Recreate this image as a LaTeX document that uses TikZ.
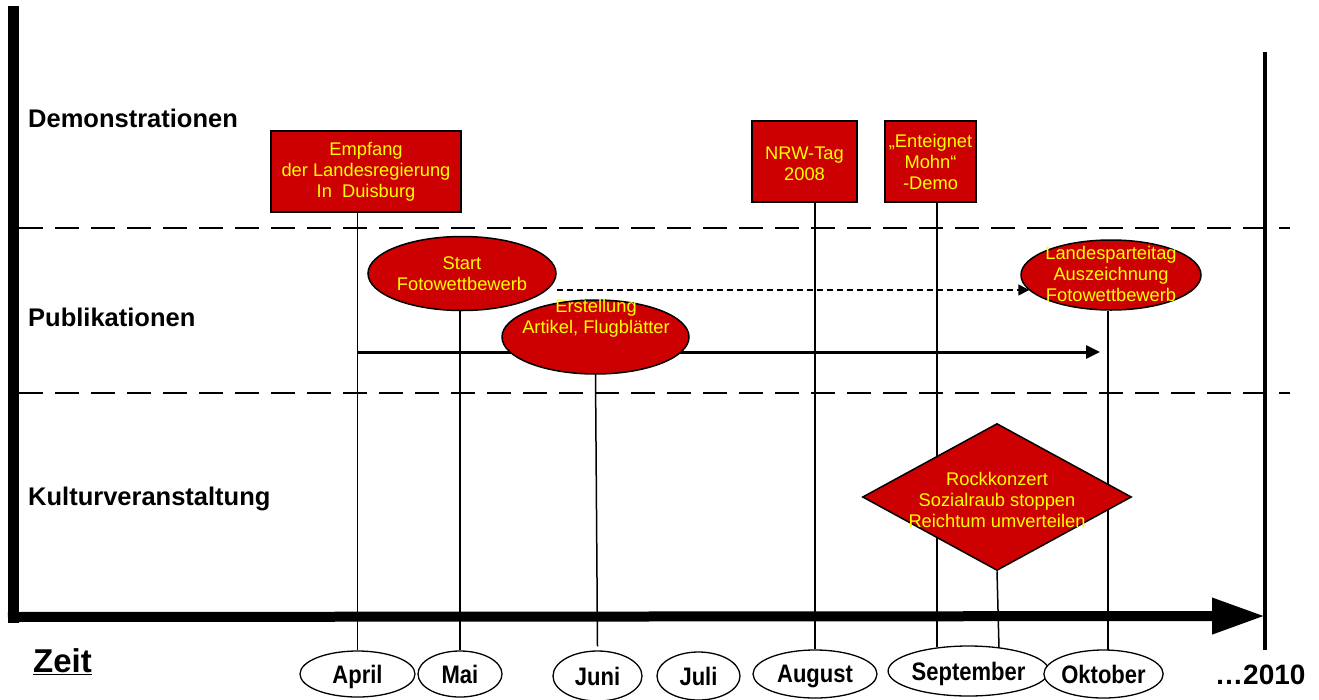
\documentclass[tikz,border=0pt]{standalone}
\usepackage{fontspec}
\setmainfont{Liberation Sans}
\usepackage{graphicx}
\usetikzlibrary{shapes.geometric,arrows.meta,backgrounds}
\definecolor{evred}{RGB}{204,0,0}
\definecolor{evyellow}{RGB}{255,255,0}
\newcommand{\mtxt}[1]{\scalebox{1}[1.15]{#1}}
\begin{document}
\begin{tikzpicture}[x=1pt,y=-1pt,
 evbox/.style={draw=black, line width=1.5pt, fill=evred, rectangle, inner sep=0pt},
 evell/.style={draw=black, line width=1.5pt, fill=evred, ellipse, inner sep=0pt},
 evdia/.style={draw=black, line width=1.5pt, fill=evred, diamond, inner sep=0pt},
 evtext/.style={text=evyellow, font=\fontsize{18.3}{21}\selectfont, align=center, inner sep=0pt},
 month/.style={draw=black, line width=1.3pt, fill=white, ellipse, inner sep=0pt, text depth=0pt, font=\fontsize{22}{24}\selectfont\bfseries},
 cat/.style={anchor=base west, font=\fontsize{25.5}{28}\selectfont\bfseries, inner sep=0pt},
 tick/.style={line width=1.5pt},
 sep/.style={line width=2.5pt, dash pattern=on 24pt off 12pt},
]
\useasboundingbox (0,0) rectangle (1319,699);

% category labels
\node[cat] (demo) at (28,127) {Demonstrationen};
\node[cat] (publ) at (28,326) {Publikationen};
\node[cat] (kult) at (28,505) {Kulturveranstaltung};
\node[anchor=base west, inner sep=0pt, font=\fontsize{33}{36}\selectfont\bfseries] (zeit) at (33,672) {\underline{Zeit}};
\node[anchor=base west, inner sep=0pt, font=\fontsize{28}{30}\selectfont\bfseries] (y2010) at (1215,684) {…2010};

% event shapes
\node[evbox, minimum width=190pt, minimum height=81pt] (empf) at (366,171.5) {};
\node[evtext] (empfT) at (empf) {Empfang\\der Landesregierung\\In\ \ Duisburg};
\node[evbox, minimum width=105pt, minimum height=81pt] (nrw) at (804.5,161.5) {};
\node[evtext] (nrwT) at ([yshift=-2pt]nrw.center) {NRW-Tag\\2008};
\node[evbox, minimum width=91pt, minimum height=81pt] (ent) at (930.5,161.5) {};
\node[evtext] (entT) at (ent) {„Enteignet\\Mohn“\\-Demo};

\node[evell, minimum width=188pt, minimum height=74pt] (start) at (462,273.5) {};
\node[evtext] (startT) at (start) {Start\\Fotowettbewerb};
\node[evell, minimum width=187pt, minimum height=74pt] (erst) at (595.5,337) {};
\node[evtext] (erstT) at (596,318) {Erstellung\\Artikel, Flugblätter};
\node[evell, minimum width=180pt, minimum height=70pt] (landes) at (1111,275) {};
\node[evtext] (landesT) at (1111,274) {Landesparteitag\\Auszeichnung\\Fotowettbewerb};

\node[evdia, minimum width=269pt, minimum height=147pt] (rock) at (997,497) {};
\node[evtext] (rockT) at (997,500) {Rockkonzert\\Sozialraub stoppen\\Reichtum umverteilen};

% month ellipses
\node[month, minimum width=115pt, minimum height=46pt] (apr) at (357.5,674) {\mtxt{April}};
\node[month, minimum width=84pt, minimum height=46pt] (mai) at (460,674) {\mtxt{Mai}};
\node[month, minimum width=89pt, minimum height=50pt] (jun) at (597.5,676) {\mtxt{Juni}};
\node[month, minimum width=83pt, minimum height=48pt] (jul) at (698.5,676) {\mtxt{Juli}};
\node[month, minimum width=124pt, minimum height=48pt] (aug) at (815,674) {\mtxt{August}};
\node[month, minimum width=123pt, minimum height=50pt] (sep) at (968.5,671) {\mtxt{September}};
\node[month, minimum width=93pt, minimum height=48pt] (okt) at (1103.5,674) {\mtxt{Oktober}};

\coordinate (sepL) at (937,647);
\coordinate (sepR) at (999,648);
\coordinate (oktT) at (1108,650);
\coordinate (pubS) at (357,352);
\coordinate (pubE) at (1100,352);

\begin{pgfonlayer}{background}
% frame
\fill (8,6) rectangle (19,623);
\draw[line width=10pt, -{Triangle[length=53pt,width=34pt]}] (8,617) -- (1265,616);
\draw[line width=4pt] (1265,52) -- (1265,650);
\draw[sep] (19,228) -- (1290,228);
\draw[sep] (19,393) -- (1290,393);
% vertical ties
\draw[tick] (apr.north |- empf.south) -- (apr.north);
\draw[tick] (mai.north |- start.south) -- (mai.north);
\draw[tick] (erst.south) -- ([yshift=4pt]jun.north);
\draw[tick] (aug.north |- nrw.south) -- (aug.north);
\draw[tick] (sepL |- ent.south) -- (sepL);
\draw[tick] (rock.south) -- (sepR);
\draw[tick] (oktT |- landes.south) -- (oktT);
% publication arrows
\draw[line width=3pt, -{Triangle[length=14pt,width=13pt]}] (pubS) -- (pubE);
\draw[line width=1.5pt, dash pattern=on 6pt off 4pt, -{Triangle[length=11pt,width=11pt]}] ([yshift=-16.5pt]start.east) -- ([xshift=9pt,yshift=-15pt]landes.west);
\end{pgfonlayer}
\end{tikzpicture}
\end{document}
